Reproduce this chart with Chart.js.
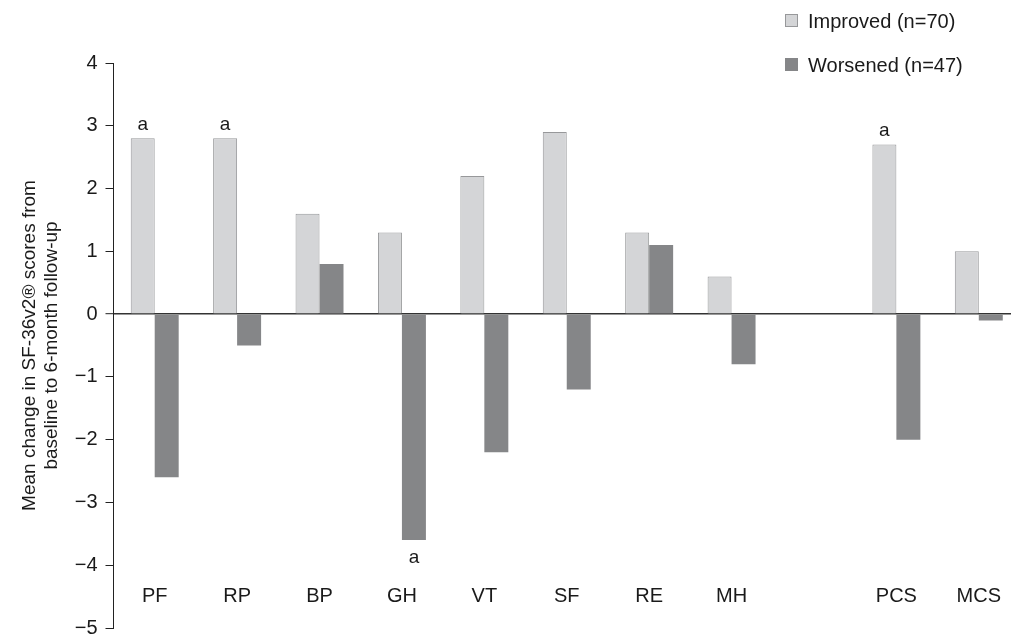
<!DOCTYPE html>
<html>
<head>
<meta charset="utf-8">
<script src="https://cdn.jsdelivr.net/npm/chart.js@4/dist/chart.umd.min.js"></script>
<style>
  html, body { margin: 0; padding: 0; background: #fff; overflow: hidden; }
  #wrap { width: 1020px; height: 639px; position: relative; }
</style>
</head>
<body>
<div id="wrap"><canvas id="c"></canvas></div>
<script>
// ---- data ----
const categories = ['PF', 'RP', 'BP', 'GH', 'VT', 'SF', 'RE', 'MH', '', 'PCS', 'MCS'];
const improved = [2.8, 2.8, 1.6, 1.3, 2.2, 2.9, 1.3, 0.6, null, 2.7, 1.0];
const worsened = [-2.6, -0.5, 0.8, -3.6, -2.2, -1.2, 1.1, -0.8, null, -2.0, -0.1];
const sigImproved = [true, true, false, false, false, false, false, false, false, true, false];
const sigWorsened = [false, false, false, true, false, false, false, false, false, false, false];
const seriesNames = ['Improved (n=70)', 'Worsened (n=47)'];
const yTicks = [4, 3, 2, 1, 0, -1, -2, -3, -4, -5];
const yTitle = ['Mean change in SF-36v2\u00AE scores from', 'baseline to 6-month follow-up'];
const sigMark = 'a';

const FONT = '"Liberation Sans", Arial, sans-serif';
const TEXT = '#1a1a1a';
const C_IMP = '#d4d5d7', C_IMP_B = '#97989a';
const C_WOR = '#858688';

const overlay = {
  id: 'overlay',
  afterDatasetsDraw(chart) {
    const ctx = chart.ctx;
    const xs = chart.scales.x, ys = chart.scales.y;
    ctx.save();
    ctx.fillStyle = TEXT;
    // category labels inside plot at y = -4.5
    ctx.font = '20px ' + FONT;
    ctx.textAlign = 'center';
    ctx.textBaseline = 'middle';
    const yl = ys.getPixelForValue(-4.5);
    categories.forEach((c, i) => { if (c) ctx.fillText(c, xs.getPixelForValue(i), yl); });
    // significance markers
    ctx.font = '19px ' + FONT;
    const m0 = chart.getDatasetMeta(0), m1 = chart.getDatasetMeta(1);
    sigImproved.forEach((s, i) => {
      if (!s) return;
      const b = m0.data[i];
      ctx.fillText(sigMark, b.x, b.y - 14);
    });
    sigWorsened.forEach((s, i) => {
      if (!s) return;
      const b = m1.data[i];
      ctx.fillText(sigMark, b.x, b.y + 18);
    });
    // legend
    ctx.textAlign = 'left';
    ctx.font = '20px ' + FONT;
    const items = [
      {fill: C_IMP, stroke: C_IMP_B, y: 21},
      {fill: C_WOR, stroke: null, y: 65}
    ];
    items.forEach((it, k) => {
      ctx.fillStyle = it.fill;
      ctx.fillRect(785, it.y - 7, 13, 13);
      if (it.stroke) {
        ctx.strokeStyle = it.stroke;
        ctx.lineWidth = 1;
        ctx.strokeRect(785.5, it.y - 6.5, 12, 12);
      }
      ctx.fillStyle = TEXT;
      ctx.fillText(seriesNames[k], 808, it.y + 1);
    });
    ctx.restore();
  }
};

new Chart(document.getElementById('c'), {
  type: 'bar',
  data: {
    labels: categories,
    datasets: [
      { label: seriesNames[0], data: improved, backgroundColor: C_IMP, borderColor: C_IMP_B, borderWidth: 1 },
      { label: seriesNames[1], data: worsened, backgroundColor: C_WOR, borderColor: C_WOR, borderWidth: 0 }
    ]
  },
  options: {
    responsive: true,
    maintainAspectRatio: false,
    animation: false,
    layout: { padding: { top: 63, bottom: 11, left: 0, right: 0 } },
    datasets: { bar: { categoryPercentage: 0.582, barPercentage: 1.0 } },
    plugins: { legend: { display: false }, tooltip: { enabled: false } },
    scales: {
      x: { display: false, offset: true },
      y: {
        min: -5, max: 4,
        afterFit(scale) {
          scale.width = 113.5;
          scale.paddingTop = 0;
          scale.paddingBottom = 0;
        },
        afterBuildTicks(scale) { scale.ticks = yTicks.map(v => ({ value: v })); },
        ticks: {
          stepSize: 1,
          padding: 8,
          color: TEXT,
          font: { family: FONT, size: 20 },
          callback: v => (v < 0 ? '\u2212' + Math.abs(v) : String(v))
        },
        grid: {
          drawOnChartArea: true,
          drawTicks: true,
          tickLength: 8,
          tickColor: '#222',
          tickWidth: 1,
          color: ctx => (ctx.tick && ctx.tick.value === 0 ? '#333' : 'rgba(0,0,0,0)'),
          lineWidth: ctx => (ctx.tick && ctx.tick.value === 0 ? 1.4 : 1)
        },
        border: { display: true, color: '#222', width: 1 },
        title: {
          display: true,
          text: yTitle,
          color: TEXT,
          font: { family: FONT, size: 19, lineHeight: 1.2 },
          padding: { top: 18, bottom: 0 }
        }
      }
    }
  },
  plugins: [overlay]
});
</script>
</body>
</html>
